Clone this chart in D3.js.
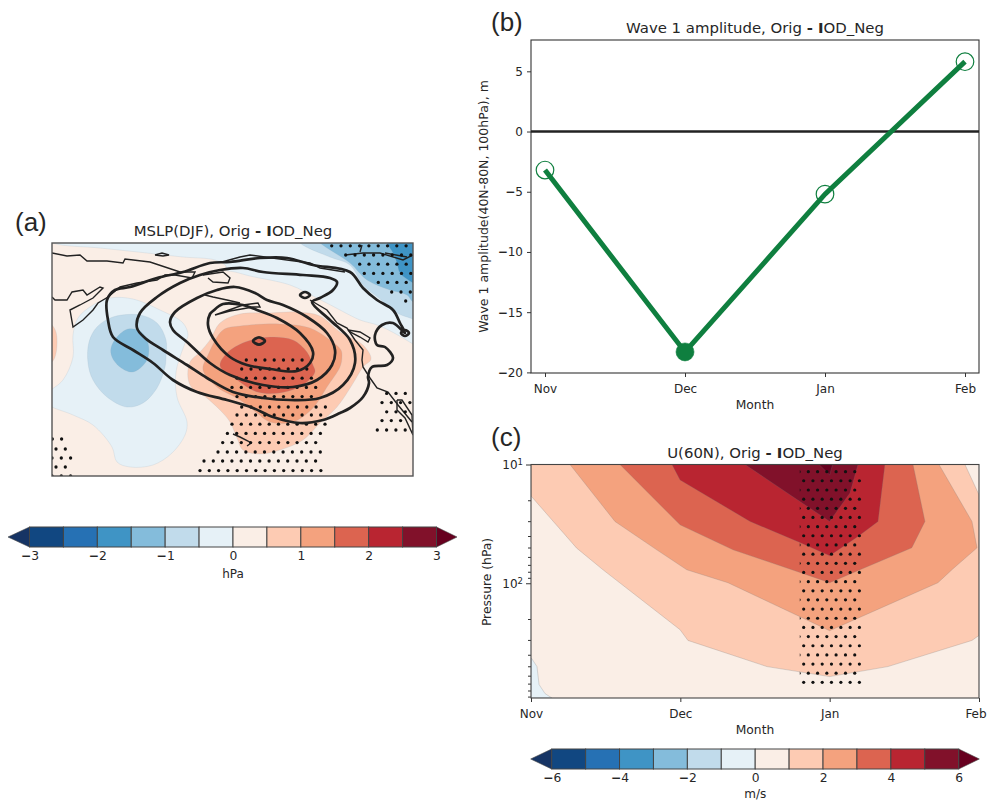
<!DOCTYPE html>
<html>
<head>
<meta charset="utf-8">
<script src="https://d3js.org/d3.v7.min.js"></script>
<style>
    html, body { margin: 0; padding: 0; background: white; }
    text { font-family: "DejaVu Sans", sans-serif; fill: #262626; }
</style>
</head>
<body>
<div id="chart"></div>
<script>
// ---- panel (b) data
const months = ["Nov", "Dec", "Jan", "Feb"];
const waveAmp = [-3.2, -18.3, -5.2, 5.8];
const waveSignificant = [false, true, false, false];
const waveTicks = [-20, -15, -10, -5, 0, 5];

// ---- colour levels shared by both colour bars
const rdbu = ["#114781", "#2671b4", "#3f94c5", "#84bcdb", "#c1dbeb", "#e6f1f7",
    "#faeee6", "#fdcbb3", "#f4a27e", "#dc6450", "#b92531", "#81112a"];
const extendLow = "#163464";
const extendHigh = "#67001f";
const mslpTicks = [-3, -2, -1, 0, 1, 2, 3];
const uTicks = [-6, -4, -2, 0, 2, 4, 6];

// ---- panel (a) filled MSLP bands, [lon, lat]
const lowOuter = [[110.5,55],[113,59.25],[120.5,62.5],[129,64.25],[140.5,64],[154,61.25],[165.5,58],[168,55],[166.5,53],[162,45.75],[162.5,39.5],[167.5,33.25],[166.5,30],[160,25.5],[150.5,22.5],[139,22],[132.5,23.25],[130,27],[120.5,32.5],[110.5,35],[97,38],[97,40],[105.5,43.75],[110.5,49.5]];
const lowMiddle = [[118,48],[120.5,43.75],[127.5,39.5],[137.5,37],[145.5,38],[152.5,41.75],[156.5,47],[157,49.5],[157,53.75],[152.5,58],[144,60],[130.5,59.5],[122.5,57],[118.5,53.25]];
const lowInner = [[129.5,51.75],[132.5,54.5],[138,56.5],[144,56],[148,53],[147.5,48.75],[140.5,45.75],[134,47],[130,49.5]];
const westLobe = [[97,58.5],[100,57.5],[102,55.75],[102.5,52.5],[101.5,49.5],[100,48.25],[97,47.5]];
const highOuter = [[168,44.25],[169,48.25],[174,50.75],[179,53.75],[184,58],[194,60.25],[209,60.5],[222.5,60.75],[234,59.75],[244,55.75],[255.5,52.5],[259.5,49],[255.5,47],[250,42.5],[242.5,37],[234,33],[225.5,28.75],[214,26.25],[204,25.25],[195.5,26.25],[192.5,29.25],[189,33.25],[184,36.25],[175.5,40],[170,41.75]];
const highMiddle = [[175.5,46.25],[178,50],[185.5,56.25],[194,57.25],[214,57.75],[229,56.75],[239,53.75],[244.5,51.25],[245,49.5],[244,47],[237.5,42],[230.5,36.75],[220.5,33.25],[209,33.25],[202.5,35.5],[194,38.75],[182.5,42]];
const highInner = [[184,47.25],[187.5,50.5],[196.5,53.25],[209,54.5],[220.5,53.75],[227.5,50.75],[230.5,47.5],[231.5,45.75],[225.5,42.5],[214,40.5],[202.5,40.75],[192.5,43.75]];
const arcticOuter = [[95,80],[100.5,78],[124,76.75],[147.5,75.5],[165.5,74.5],[181.5,73.75],[187,72.25],[187,71.25],[191.5,70.75],[199,69.75],[219,67.5],[232.5,64.25],[244,61.25],[254,58.75],[264,57.25],[280.5,52.75],[295,48],[295,85]];
const arcticMiddle = [[218,82],[224,78],[239,74.5],[249,72.5],[255.5,67.5],[264,64],[272.5,60.5],[280.5,59],[295,56],[295,85]];
const arcticInner = [[226,82],[234,78],[249,73],[257.5,68.75],[269,66.25],[277.5,65],[280.5,63.25],[295,60],[295,85]];
const arcticCore = [[263,84],[267.5,78],[270.5,75.5],[272.5,73],[274,70.5],[280.5,68],[295,64],[295,85]];

// ---- panel (a) black difference contours
const contourLines = [
    [[130.5,54.5],[128,58.75],[127.5,63.75],[131.5,66.25],[139,67],[152.5,69.25],[165.5,70.75],[179,73],[189,73.25],[204,74.25],[217.5,74.25],[230.5,72.5],[249,70.75],[255.5,66.75],[262.5,63.75],[270.5,61.25],[274,58],[276.5,55.5],[270.5,58],[265,57.5],[261.5,55],[262.5,52.5],[266.5,52],[270.5,49.25],[267.5,47.5],[260,47],[258,44.5],[258.5,43],[255.5,39.5],[249,36.75],[244,35.5],[235.5,33.75],[224,33],[210.5,34.5],[200.5,36.75],[187.5,38.75],[172.5,40.75],[160.5,43.75],[150.5,48],[140.5,51.25]],
    [[142.5,56.75],[144,60.5],[152.5,64.5],[164,68],[174,70],[184,71.25],[195.5,71.75],[205.5,70.75],[225.5,70],[239,69.25],[242.5,68.25],[240.5,66.25],[234,64.25],[230,63.25],[239,58.75],[249,53.75],[251.5,48],[245.5,42.5],[234,39.25],[219,38.75],[205.5,39.25],[190.5,40.75],[177.5,44.25],[167.5,47.5],[155.5,51.25],[146.5,54.25]],
    [[159,58.25],[161.5,60.75],[172.5,64.25],[182.5,66.25],[191.5,67],[201.5,65.5],[207.5,63.75],[215.5,62.5],[227.5,59.5],[237.5,55.5],[241.5,51.25],[240,47.5],[232.5,43.75],[220.5,42],[205.5,42.5],[189,45],[179,48],[167.5,53.25],[160.5,56.25]],
    [[179,60.25],[178,57.5],[180.5,54.25],[189,49.5],[197.5,47.5],[209,46.5],[222.5,46],[229,48],[230.5,50.75],[224,55.5],[212.5,59.25],[202.5,61.25],[195.5,62.5],[185.5,62.75],[180.5,61]],
    [[200.5,53.5],[203.5,54.4],[206.5,53.5],[203.5,52.6]],
    [[224,65],[226.5,65.75],[229,65],[226.5,64.25]],
    [[274.5,55.5],[276.5,56.25],[278.5,55.5],[276.5,54.75]]
];

// ---- panel (a) coastlines
const coastLines = [
    [[100,75.5],[107.5,74.75],[114,75],[117.5,73.5],[127.5,73.5],[135.5,73],[136.5,74],[149,73.25],[164,70.75],[171.5,70.75],[170,69.25],[161.5,70],[156.5,70],[152.5,68.75],[142.5,68],[134,67],[128,64.5],[123,63],[120.5,61.25],[115.5,58.75],[110.5,57],[109,61.25],[114,62.5],[120.5,64.25],[125.5,66.75],[124,67],[117.5,65],[115.5,66.25],[110,65.75],[107.5,63.75],[101.5,63.75],[100,64.5]],
    [[175.5,70],[185.5,70.75],[189,69.25],[188,68],[180.5,68.25],[178,69.25]],
    [[185,73.25],[194,74.5],[199,75],[217.5,73.75],[229,73],[234,71.75],[246.5,70.75]],
    [[176.5,65],[180.5,64.5],[187.5,63.75],[194,63]],
    [[181.5,60],[195.5,62.5],[203,63],[204,62],[200.5,62],[189,61],[181.5,60]],
    [[229,63.75],[237.5,61.25],[242.5,58],[247.5,56.75],[251.5,53.75],[255.5,51.25],[255,48.75],[255.5,47],[259,44.25],[262.5,41.75],[268,40.75],[273,37.5],[280,33.25]],
    [[248,56.25],[254,55.75],[259,54.25],[258,53.25],[254,54.5],[249,55.75],[248,56.25]],
    [[272.5,38.75],[275,38.75],[280,35],[280.5,30],[276.5,34.25],[272.5,36.25],[272.5,38.75]],
    [[246.5,75],[255.5,75.5],[264,75.5],[275.5,73.75],[280.5,75]],
    [[266.5,75.5],[277.5,74.5]],
    [[255,77.5],[254,75.75]],
    [[190.5,30.25],[194,29.5],[198,28.5],[199.5,28],[197.5,27.25]],
    [[151.5,75],[155,75.5],[158.5,75],[155.5,74.75],[151.5,75]]
];

// ---- panel (a) significance stipple rows, [lat, first lon, number of dots]
const stippleRows = [
    [48.75,197.15,7],[46.5,194.85,8],[44.2,192.5,9],[41.9,190,10],[39.6,192.5,9],[37,194.85,10],[35,192.5,10],[32.7,190,11],[30.4,187.7,11],[28.1,185.35,11],[25.75,183,12],[23.5,176,13],[21.1,174,14],
    [29,100.15,2],[26.5,102,2],[24.25,100,3],[22,102,2],[19.75,100,3],
    [40.4,267.35,3],[38.1,265,4],[35.8,267.35,3],[33.6,265,3],[31.25,262.65,4],
    [77.3,239.85,9],[75,246.85,8],[72.7,253.85,6],[70.4,256.15,6],[68.15,263.15,4],[65.75,269.85,3],[63.5,276.85,1]
];

// ---- panel (c) filled U bands, [month index, pressure hPa]
const uBlue = [[0,431],[0.005,431],[0.04,503],[0.054,713],[0.094,849],[0.14,925],[0,925]];
const uBand1 = [[0,18.4],[0.306,50.6],[0.482,77],[0.998,246],[1.051,303],[1.58,503],[2,611],[2.39,503],[2.953,303],[3,275],[3,18],[2.906,10],[0,10]];
const uBand2 = [[0.261,10],[0.5625,30.2],[0.842,52.3],[1.043,77],[1.319,99],[2,251],[2.725,99],[2.826,75.5],[2.987,50.3],[2.953,30.2],[2.732,10]];
const uBand3 = [[0.596,10],[0.998,32.2],[1.353,52.3],[1.748,77],[2,99],[2.203,77],[2.55,50.3],[2.638,30.2],[2.558,10]];
const uBand4 = [[0.944,10],[0.998,13.5],[1.467,30.2],[1.8,45.4],[2,58.7],[2.19,40.4],[2.324,30.2],[2.37,10]];
const uBand5 = [[1.433,10],[2,30.2],[2.136,17.4],[2.19,10]];
const uBand6 = [[1.929,10],[2,12.25],[2.02,10]];

// ---- panel (c) stipple
const uStipplePressure = [11.5,13.7,16.4,19.6,23.4,27.9,33.4,39.8,47.6,56.9,67.9,81.1,96.9,115.7,138,165,197,235.5,281,336,401,479,572,683];
const uStippleOdd = [1.795,1.857,1.919,1.981,2.043,2.106,2.168];
const uStippleEven = [1.826,1.888,1.95,2.012,2.075,2.137,2.199];
const uPressureTicks = [10, 20, 30, 40, 50, 60, 70, 80, 90, 100, 200, 300, 400, 500, 600, 700, 800, 900];

function main() {
    const svg = d3.select("#chart")
        .append("svg")
        .attr("width", 988)
        .attr("height", 800)

    // axis labels use a heavier minus, as in the original
    const boldMinus = function (sel) {
        sel.selectAll(".tick text").each(function () {
            const t = d3.select(this)
            const s = t.text()
            if (s.indexOf("\u2212") == 0) {
                t.text("")
                t.append("tspan").style("font-weight", "bold").text("\u2212")
                t.append("tspan").text(s.slice(1))
            }
        })
    }
    const signed = d => (d < 0 ? "\u2212" + Math.abs(d) : "" + d)

    const title = function (x, y, before) {
        const t = svg.append("text")
            .attr("x", x).attr("y", y)
            .attr("text-anchor", "middle")
            .style("font-size", "14.9px")
        t.append("tspan").text(before + ", Orig ")
        t.append("tspan").style("font-weight", "bold").text("- I")
        t.append("tspan").text("OD_Neg")
    }

    const panelLabel = function (x, y, s) {
        svg.append("text").attr("x", x).attr("y", y)
            .style("font-family", "'Liberation Sans', sans-serif")
            .style("font-size", "26px")
            .text(s)
    }

    // ---------- (a) map
    const mapX = d3.scaleLinear().domain([100, 280.5]).range([52, 413])
    const mapY = d3.scaleLinear().domain([19.75, 78]).range([476, 243])
    const mapLine = d3.line().x(d => mapX(d[0])).y(d => mapY(d[1]))

    svg.append("clipPath").attr("id", "mapClip").append("rect")
        .attr("x", 52).attr("y", 243).attr("width", 361).attr("height", 233)

    const mapG = svg.append("g").attr("clip-path", "url(#mapClip)")
    mapG.append("rect").attr("x", 52).attr("y", 243).attr("width", 361).attr("height", 233)
        .attr("fill", rdbu[6])

    const mapBands = [
        [arcticOuter, rdbu[5]], [arcticMiddle, rdbu[4]], [arcticInner, rdbu[3]], [arcticCore, rdbu[2]],
        [lowOuter, rdbu[5]], [lowMiddle, rdbu[4]], [lowInner, rdbu[3]], [westLobe, rdbu[7]],
        [highOuter, rdbu[7]], [highMiddle, rdbu[8]], [highInner, rdbu[9]]
    ]
    const smooth = d3.curveCatmullRomClosed.alpha(0.5)
    mapG.selectAll("path.band")
        .data(mapBands)
        .join("path")
        .attr("class", "band")
        .attr("d", d => mapLine.curve(smooth)(d[0]))
        .attr("fill", d => d[1])
        .attr("stroke", "#8fa9b8")
        .attr("stroke-opacity", 0.35)
        .attr("stroke-width", 0.5)

    mapG.selectAll("path.coast")
        .data(coastLines)
        .join("path")
        .attr("class", "coast")
        .attr("d", d => mapLine.curve(d3.curveLinear)(d))
        .attr("fill", "none")
        .attr("stroke", "#222")
        .attr("stroke-width", 1.4)

    const dots = []
    stippleRows.forEach(r => {
        d3.range(r[2]).forEach(i => dots.push([r[1] + i * 4.65, r[0]]))
    })
    mapG.selectAll("circle")
        .data(dots)
        .join("circle")
        .attr("cx", d => mapX(d[0]))
        .attr("cy", d => mapY(d[1]))
        .attr("r", 1.65)
        .attr("fill", "#111")

    mapG.selectAll("path.cont")
        .data(contourLines)
        .join("path")
        .attr("class", "cont")
        .attr("d", d => mapLine.curve(smooth)(d))
        .attr("fill", "none")
        .attr("stroke", "#222")
        .attr("stroke-width", 2.7)

    svg.append("rect").attr("x", 52).attr("y", 243).attr("width", 361).attr("height", 233)
        .attr("fill", "none").attr("stroke", "#555").attr("stroke-width", 1.4)

    title(233, 236, "MSLP(DJF)")
    panelLabel(15, 231, "(a)")

    // ---------- colour bars
    const colorbar = function (x0, x1, y0, y1, tipL, tipR, ticks, unit, unitY) {
        const max = ticks[ticks.length - 1]
        const s = d3.scaleLinear().domain([-max, max]).range([x0, x1])
        const step = 2 * max / rdbu.length
        const g = svg.append("g")
        g.append("path")
            .attr("d", d3.line()([[x0, y0], [tipL, (y0 + y1) / 2], [x0, y1]]) + "Z")
            .attr("fill", extendLow).attr("stroke", "#444").attr("stroke-width", 0.6)
        g.append("path")
            .attr("d", d3.line()([[x1, y0], [tipR, (y0 + y1) / 2], [x1, y1]]) + "Z")
            .attr("fill", extendHigh).attr("stroke", "#444").attr("stroke-width", 0.6)
        g.selectAll("rect")
            .data(rdbu)
            .join("rect")
            .attr("x", (d, i) => s(-max + i * step))
            .attr("y", y0)
            .attr("width", (d, i) => s(-max + (i + 1) * step) - s(-max + i * step))
            .attr("height", y1 - y0)
            .attr("fill", d => d)
            .attr("stroke", "#444")
            .attr("stroke-width", 1)
        const ax = g.append("g")
            .attr("transform", "translate(0," + y1 + ")")
            .call(d3.axisBottom(s).tickValues(ticks).tickSize(0).tickPadding(4).tickFormat(signed))
        ax.select(".domain").remove()
        ax.selectAll("text").style("font-size", "12.3px").style("font-family", "'DejaVu Sans', sans-serif")
        ax.call(boldMinus)
        g.append("text").attr("x", (x0 + x1) / 2).attr("y", unitY)
            .attr("text-anchor", "middle").style("font-size", "12px").text(unit)
    }
    colorbar(29.5, 436.5, 527, 547, 8, 457, mslpTicks, "hPa", 578)
    colorbar(551.7, 958.7, 749, 769, 530.7, 979.3, uTicks, "m/s", 797.5)

    // ---------- (b) wave amplitude
    const waveX = d3.scalePoint().domain(months).range([545, 965])
    const waveY = d3.scaleLinear().domain([-20.05, 7.6]).range([373, 40])
    const waveG = svg.append("g")

    const xAx = waveG.append("g").attr("transform", "translate(0,373)")
        .call(d3.axisBottom(waveX).tickSize(4).tickPadding(7))
    const yAx = waveG.append("g").attr("transform", "translate(531,0)")
        .call(d3.axisLeft(waveY).tickValues(waveTicks).tickSize(4).tickPadding(4).tickFormat(signed))
    ;[xAx, yAx].forEach(a => {
        a.select(".domain").remove()
        a.selectAll("text").style("font-size", "12px").style("font-family", "'DejaVu Sans', sans-serif")
        a.selectAll("line").attr("stroke", "#333")
    })
    yAx.call(boldMinus)

    waveG.append("rect").attr("x", 531).attr("y", 40).attr("width", 448).attr("height", 333)
        .attr("fill", "none").attr("stroke", "#333").attr("stroke-width", 1.1)

    waveG.append("line")
        .attr("x1", 531).attr("x2", 979)
        .attr("y1", waveY(0)).attr("y2", waveY(0))
        .attr("stroke", "#222").attr("stroke-width", 2.6)

    const green = "#0f7f3f"
    const wavePts = months.map((m, i) => [m, waveAmp[i], waveSignificant[i]])
    waveG.append("path")
        .attr("d", d3.line().x(d => waveX(d[0])).y(d => waveY(d[1]))(wavePts))
        .attr("fill", "none").attr("stroke", green).attr("stroke-width", 5)
    waveG.selectAll("circle")
        .data(wavePts)
        .join("circle")
        .attr("cx", d => waveX(d[0]))
        .attr("cy", d => waveY(d[1]))
        .attr("r", d => d[2] ? 9 : 8.8)
        .attr("fill", d => d[2] ? green : "none")
        .attr("stroke", green)
        .attr("stroke-width", d => d[2] ? 0.6 : 1.2)

    title(755, 33, "Wave 1 amplitude")
    panelLabel(491, 31, "(b)")
    svg.append("text").attr("x", 755).attr("y", 409).attr("text-anchor", "middle")
        .style("font-size", "12.3px").text("Month")
    svg.append("text")
        .attr("transform", "translate(488,206.5) rotate(-90)")
        .attr("text-anchor", "middle")
        .style("font-size", "12.5px")
        .text("Wave 1 amplitude(40N-80N, 100hPa), m")

    // ---------- (c) zonal wind
    const uX = d3.scaleLinear().domain([0, 3]).range([531, 979])
    const uY = d3.scaleLog().domain([10, 925]).range([464.5, 698])
    const uLine = d3.line().x(d => uX(d[0])).y(d => uY(d[1]))

    svg.append("clipPath").attr("id", "uClip").append("rect")
        .attr("x", 531).attr("y", 464.5).attr("width", 448).attr("height", 233.5)
    svg.append("clipPath").attr("id", "uDotClip").append("rect")
        .attr("x", uX(1.8)).attr("y", 464.5).attr("width", 200).attr("height", 233.5)

    const uG = svg.append("g").attr("clip-path", "url(#uClip)")
    uG.append("rect").attr("x", 531).attr("y", 464.5).attr("width", 448).attr("height", 233.5)
        .attr("fill", rdbu[6])

    const uBands = [[uBlue, rdbu[5]], [uBand1, rdbu[7]], [uBand2, rdbu[8]], [uBand3, rdbu[9]],
        [uBand4, rdbu[10]], [uBand5, rdbu[11]], [uBand6, extendHigh]]
    uG.selectAll("path")
        .data(uBands)
        .join("path")
        .attr("d", d => uLine(d[0]) + "Z")
        .attr("fill", d => d[1])
        .attr("stroke", "#777")
        .attr("stroke-opacity", 0.5)
        .attr("stroke-width", 0.5)

    const uDots = []
    uStipplePressure.forEach((p, i) => {
        (i % 2 == 0 ? uStippleOdd : uStippleEven).forEach(m => uDots.push([m, p]))
    })
    uG.append("g").attr("clip-path", "url(#uDotClip)")
        .selectAll("circle")
        .data(uDots)
        .join("circle")
        .attr("cx", d => uX(d[0]))
        .attr("cy", d => uY(d[1]))
        .attr("r", 1.6)
        .attr("fill", "#111")

    const uXAx = svg.append("g").attr("transform", "translate(0,698)")
        .call(d3.axisBottom(uX).tickValues([0, 1, 2, 3]).tickSize(4).tickPadding(7).tickFormat(i => months[i]))
    const uYAx = svg.append("g").attr("transform", "translate(531,0)")
        .call(d3.axisLeft(uY).tickValues(uPressureTicks).tickSize(3).tickPadding(3).tickFormat(""))
    ;[uXAx, uYAx].forEach(a => {
        a.select(".domain").remove()
        a.selectAll("text").style("font-size", "12px").style("font-family", "'DejaVu Sans', sans-serif")
        a.selectAll("line").attr("stroke", "#333")
    })
    // "Feb" sits on the frame corner, nudge it so it stays inside the window
    uXAx.selectAll(".tick").filter(d => d == 3).select("text").attr("dx", -3.5)
    // major ticks are longer and carry a power of ten label
    uYAx.selectAll(".tick").filter(d => d == 10 || d == 100).each(function (d) {
        const tick = d3.select(this)
        tick.select("line").attr("x2", -5)
        const t = tick.select("text")
            .attr("x", -8)
            .attr("dy", "0.32em")
        t.append("tspan").text("10")
        t.append("tspan").attr("dy", "-0.45em").style("font-size", "8.5px").text(d == 10 ? "1" : "2")
    })

    svg.append("rect").attr("x", 531).attr("y", 464.5).attr("width", 448).attr("height", 233.5)
        .attr("fill", "none").attr("stroke", "#444").attr("stroke-width", 1.1)

    title(755, 458, "U(60N)")
    panelLabel(491, 446, "(c)")
    svg.append("text").attr("x", 755).attr("y", 734).attr("text-anchor", "middle")
        .style("font-size", "12.3px").text("Month")
    svg.append("text")
        .attr("transform", "translate(491,582) rotate(-90)")
        .attr("text-anchor", "middle")
        .style("font-size", "12.3px")
        .text("Pressure (hPa)")
}
main();
</script>
</body>
</html>
